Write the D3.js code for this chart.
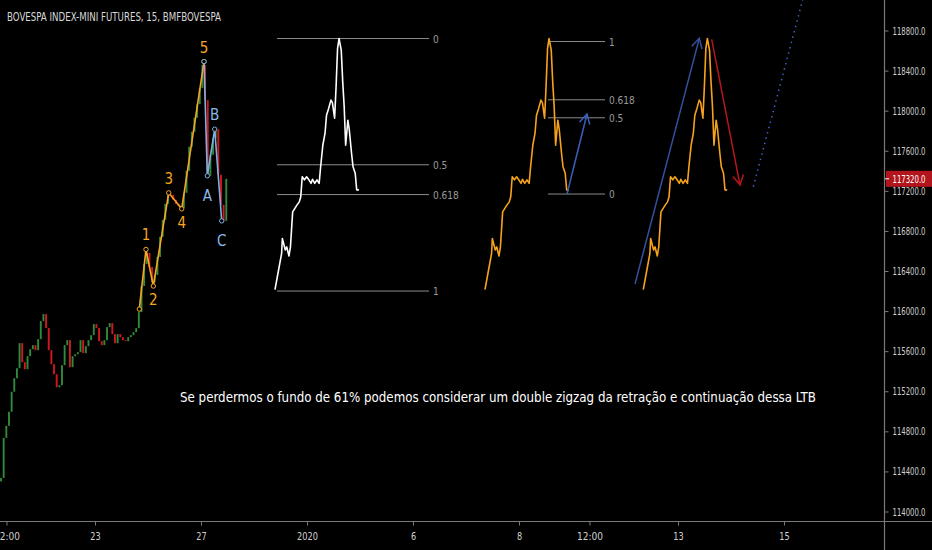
<!DOCTYPE html>
<html><head><meta charset="utf-8">
<script src="https://cdn.jsdelivr.net/npm/d3@7/dist/d3.min.js"></script>
<style>
html,body{margin:0;padding:0;background:#000;}
svg{display:block;}
text{font-family:"DejaVu Sans Condensed","DejaVu Sans",sans-serif;}
</style></head>
<body>
<svg id="c" width="932" height="550"></svg>
<script>
// ---- DATA ----
const title = "BOVESPA INDEX-MINI FUTURES, 15, BMFBOVESPA";
const note = "Se perdermos o fundo de 61% podemos considerar um double zigzag da retração e continuação dessa LTB";
const priceTicks = [114000,114400,114800,115200,115600,116000,116400,116800,117200,117600,118000,118400,118800];
const lastPrice = 117320;
// trading-day positions (Dec19=0, Dec20=1, Dec23=2, Dec26=3, Dec27=4, ... Jan15=15)
const timeTickDays = [0.33, 2, 4, 6, 8, 10, 11.33, 13, 15];
const timeTickLabels = ["12:00","23","27","2020","6","8","12:00","13","15"];
// candles (close prices, each open = previous close)
const candleStartDay = 0.226, candleStepDay = 0.05;
const candleFirstOpen = 114300;
const candleCloses = [114335,114735,114855,114995,115195,115330,115430,115680,115490,115420,
 115550,115620,115660,115610,115720,115900,115970,115830,115610,115470,
 115370,115240,115260,115460,115660,115710,115440,115550,115570,115590,
 115710,115580,115650,115710,115760,115870,115830,115700,115660,115710,
 115840,115880,115770,115680,115770,115740,115710,115700,115740,115760,
 115790,115830,115990,116250,116470,116580,116440,116290,116360,116540,
 116740,116910,117070,117150,117160,117110,117070,117050,117030,117180,
 117400,117640,117790,117930,118065,118225,118455,118105,117350,117560,
 117725,117815,117360,117060,116900,117320];
// Elliott wave points
const impulseLabels = ["","1","2","3","4","5"];
const impulseDays   = [2.836,2.962,3.100,3.391,3.636,4.057];
const impulsePrices = [116020,116615,116250,117180,117020,118490];
const correctiveLabels = ["","A","B","C"];
const correctiveDays   = [4.057,4.119,4.258,4.391];
const correctivePrices = [118490,117350,117815,116900];
// echo (bars pattern) copy: offset in 15-min bars, price
const echoBars = [0,2,4.5,5,7,8,9.5,10.5,12,13.5,15,16.5,17.5,18.5,20,21.5,23,24.5,25.5,27,28.5,30,31,32.5,34,35,36.5,38,39,40.5,41.5,42.5,43.5,45,46,47,48,49.5,50.5,52,53,54.5,55.5,57];
const echoPrices = [116215,116375,116575,116725,116610,116640,116550,116640,116990,117025,117060,117090,117140,117340,117310,117340,117310,117275,117315,117275,117310,117275,117440,117655,117775,117955,118025,118105,118080,117925,118240,118620,118720,118605,118290,118040,117655,117905,117805,117575,117440,117375,117210,117210];
const echoStartDays = [5.396, 9.358, 12.345];
const echoColors = ["#ffffff","#f7a21c","#f7a21c"];
// Fibonacci retracements
const fib1Levels = [0,0.5,0.618,1];     // from high (0) to low (1)
const fib1 = {d0:5.434, d1:8.302, high:118720, low:116200};
const fib2Levels = [1,0.618,0.5,0];     // from base (0) to top (1)
const fib2 = {d0:10.547, d1:11.623, base:117168, top:118690};
// arrows & projection line [day, price]
const arrowUpSmall = [[10.906,117168],[11.283,117967]];
const arrowUpLong  = [[12.189,116270],[13.402,118722]];
const arrowDown    = [[13.636,118712],[14.170,117258]];
const projection   = [[14.421,117241],[15.351,119104]];

// ---- CHART ----
const W = 932, H = 550, paneR = 884, paneB = 521;
const svg = d3.select("#c");
svg.append("rect").attr("width",W).attr("height",H).attr("fill","#000");

const x = d3.scaleLinear().domain([2,15]).range([95,784]);
const y = d3.scaleLinear().domain([114000,118800]).range([511.5,30.5]);
const dayPerBar = 1/36;

const pane = svg.append("g");
pane.append("clipPath").attr("id","clip").append("rect").attr("width",paneR).attr("height",paneB);
const g = pane.append("g").attr("clip-path","url(#clip)");

// candles
const candles = candleCloses.map((c,i)=>({day:candleStartDay+i*candleStepDay, o: i===0?candleFirstOpen:candleCloses[i-1], c}));
g.selectAll("rect.candle").data(candles).join("rect")
  .attr("class","candle")
  .attr("x",d=>x(d.day)-0.9).attr("width",1.9)
  .attr("y",d=>y(Math.max(d.o,d.c)))
  .attr("height",d=>Math.max(1,Math.abs(y(d.o)-y(d.c))))
  .attr("fill",d=>d.c>=d.o?"#2f8a3c":"#d0191f");

// waves
const line = d3.line().x(d=>x(d[0])).y(d=>y(d[1]));
const imp = impulseDays.map((d,i)=>[d,impulsePrices[i]]);
const cor = correctiveDays.map((d,i)=>[d,correctivePrices[i]]);
g.append("path").attr("d",line(imp)).attr("fill","none").attr("stroke","#f5a623").attr("stroke-width",1.6);
g.append("path").attr("d",line(cor)).attr("fill","none").attr("stroke","#7fb0e0").attr("stroke-width",1.6);
g.selectAll("circle.imp").data(imp).join("circle").attr("class","imp")
  .attr("cx",d=>x(d[0])).attr("cy",d=>y(d[1])).attr("r",2.2)
  .attr("fill","#000").attr("stroke","#f5a623").attr("stroke-width",1);
g.selectAll("circle.cor").data(cor).join("circle").attr("class","cor")
  .attr("cx",d=>x(d[0])).attr("cy",d=>y(d[1])).attr("r",2.2)
  .attr("fill","#000").attr("stroke","#7fb0e0").attr("stroke-width",1);
const impUp = [false,true,false,true,false,true];
g.selectAll("text.imp").data(imp).join("text").attr("class","imp")
  .attr("x",d=>x(d[0])).attr("y",(d,i)=>y(d[1])+(impUp[i]?-9:19))
  .attr("text-anchor","middle").attr("font-size",15).attr("fill","#f5a623")
  .text((d,i)=>impulseLabels[i]);
const corUp = [true,false,true,false];
g.selectAll("text.cor").data(cor).join("text").attr("class","cor")
  .attr("x",d=>x(d[0])).attr("y",(d,i)=>y(d[1])+(corUp[i]?-9:25))
  .attr("text-anchor","middle").attr("font-size",15).attr("fill","#8ab8e6")
  .text((d,i)=>correctiveLabels[i]);

// fib retracements
const fibColor = "#8c8c8c";
fib1Levels.forEach(l=>{
  const p = fib1.high - l*(fib1.high-fib1.low);
  g.append("line").attr("x1",x(fib1.d0)).attr("x2",x(fib1.d1)).attr("y1",y(p)).attr("y2",y(p))
    .attr("stroke",fibColor).attr("stroke-width",1);
  g.append("text").attr("x",x(fib1.d1)+4).attr("y",y(p)+4).attr("font-size",10).attr("fill","#9a9a9a").text(String(l));
});
fib2Levels.forEach(l=>{
  const p = fib2.base + l*(fib2.top-fib2.base);
  g.append("line").attr("x1",x(fib2.d0)).attr("x2",x(fib2.d1)).attr("y1",y(p)).attr("y2",y(p))
    .attr("stroke",fibColor).attr("stroke-width",1);
  g.append("text").attr("x",x(fib2.d1)+4).attr("y",y(p)+4).attr("font-size",10).attr("fill","#9a9a9a").text(String(l));
});

// echoes
echoStartDays.forEach((s,k)=>{
  const pts = echoBars.map((b,i)=>[s+b*dayPerBar, echoPrices[i]]);
  g.append("path").attr("d",line(pts)).attr("fill","none").attr("stroke",echoColors[k])
    .attr("stroke-width",1.6).attr("stroke-linejoin","round");
});

// arrows
function arrow(seg,color){
  const x1=x(seg[0][0]), y1=y(seg[0][1]), x2=x(seg[1][0]), y2=y(seg[1][1]);
  g.append("line").attr("x1",x1).attr("y1",y1).attr("x2",x2).attr("y2",y2)
    .attr("stroke",color).attr("stroke-width",1.5);
  const a = Math.atan2(y2-y1,x2-x1), L=11, sp=0.5;
  const p1=[x2-L*Math.cos(a-sp), y2-L*Math.sin(a-sp)], p2=[x2-L*Math.cos(a+sp), y2-L*Math.sin(a+sp)];
  g.append("path").attr("d",`M${p1}L${x2},${y2}L${p2}`).attr("fill","none")
    .attr("stroke",color).attr("stroke-width",1.5);
}
arrow(arrowUpSmall,"#3a5eb8");
arrow(arrowUpLong,"#34509e");
arrow(arrowDown,"#b8161c");
g.append("line").attr("x1",x(projection[0][0])).attr("y1",y(projection[0][1]))
  .attr("x2",x(projection[1][0])).attr("y2",y(projection[1][1]))
  .attr("stroke","#3f62c0").attr("stroke-width",1.5).attr("stroke-dasharray","1.5,4");

// note text
g.append("text").attr("x",498).attr("y",402).attr("text-anchor","middle")
  .attr("font-size",14).attr("fill","#ffffff").attr("textLength",636).attr("lengthAdjust","spacingAndGlyphs")
  .text(note);

// title
svg.append("text").attr("x",7).attr("y",21).attr("font-size",11.5).attr("fill","#d8d8d8")
  .attr("textLength",214).attr("lengthAdjust","spacingAndGlyphs").text(title);

// axes frame lines
svg.append("line").attr("x1",0).attr("x2",W).attr("y1",paneB+0.5).attr("y2",paneB+0.5).attr("stroke","#7a7a7a").attr("stroke-width",1.2);
svg.append("line").attr("x1",paneR+0.5).attr("x2",paneR+0.5).attr("y1",0).attr("y2",H).attr("stroke","#7a7a7a").attr("stroke-width",1.2);

// bottom axis
const xa = svg.append("g").attr("transform",`translate(0,${paneB+0.5})`)
  .call(d3.axisBottom(x).tickValues(timeTickDays).tickFormat((d,i)=>timeTickLabels[i]).tickSize(4).tickPadding(7));
xa.select(".domain").remove();
xa.selectAll("line").attr("stroke","#7a7a7a");
xa.selectAll("text").attr("fill","#d0d0d0").attr("font-size",11).attr("font-family","DejaVu Sans Condensed, sans-serif")
  .each(function(){ const t=d3.select(this); const n=t.text().length; t.attr("textLength", n*5.2).attr("lengthAdjust","spacingAndGlyphs"); });

// right axis (condensed via horizontal scale)
const sx = 0.7;
const ya = svg.append("g").attr("transform",`translate(${paneR+0.5},0)`)
  .call(d3.axisRight(y).tickValues(priceTicks).tickFormat(d=>d.toFixed(1)).tickSize(4).tickPadding(4));
ya.select(".domain").remove();
ya.selectAll("line").attr("stroke","#7a7a7a");
ya.selectAll("text").attr("fill","#cfcfcf").attr("font-size",11).attr("font-family","DejaVu Sans Condensed, sans-serif")
  .attr("x", 8/sx).attr("transform",`scale(${sx},1)`);

// last price label
const ly = y(lastPrice);
svg.append("rect").attr("x",paneR+2).attr("y",ly-8).attr("width",W-paneR-2).attr("height",16).attr("fill","#b2151b");
svg.append("line").attr("x1",paneR+1).attr("x2",paneR+5).attr("y1",ly).attr("y2",ly).attr("stroke","#fff");
svg.append("text").attr("transform",`translate(${paneR+8.5},${ly+4}) scale(${sx},1)`)
  .attr("font-size",11).attr("fill","#fff").text(lastPrice.toFixed(1));
</script>
</body></html>
